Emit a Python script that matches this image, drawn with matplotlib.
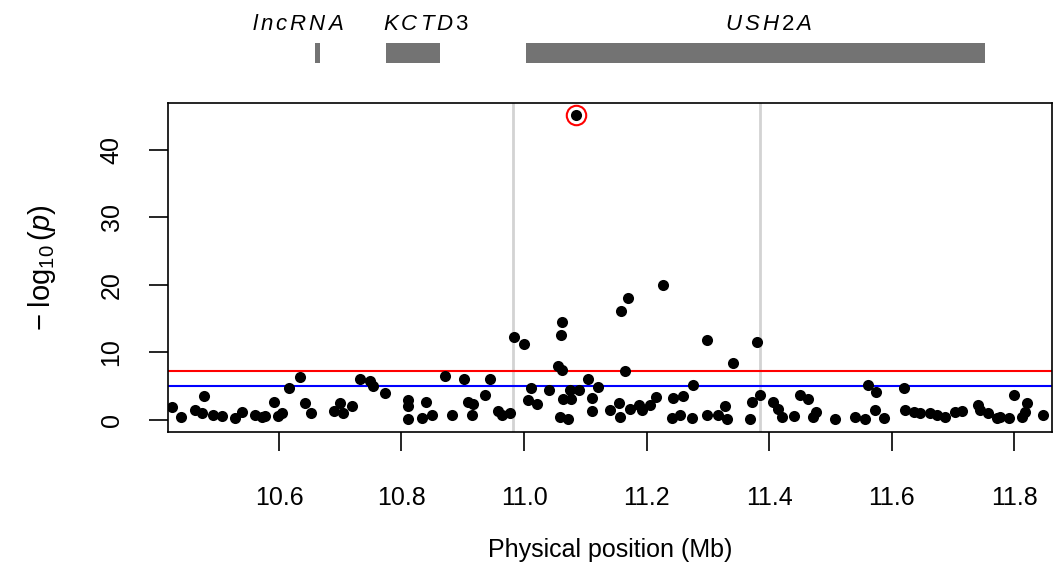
import matplotlib
matplotlib.use("Agg")
import matplotlib.pyplot as plt

plt.rcParams['font.family'] = ['Liberation Sans', 'DejaVu Sans']
plt.rcParams['mathtext.fontset'] = 'custom'
plt.rcParams['mathtext.rm'] = 'Liberation Sans'
plt.rcParams['mathtext.it'] = 'Liberation Sans:italic'

# SNP positions (Mb) and -log10(p)
pos = [10.425, 10.440, 10.463, 10.475, 10.478, 10.493, 10.507, 10.528, 10.539,
       10.561, 10.572, 10.577, 10.592, 10.599, 10.605, 10.616, 10.634, 10.642,
       10.653, 10.689, 10.700, 10.705, 10.720, 10.732, 10.749, 10.754, 10.773,
       10.811, 10.811, 10.811, 10.833, 10.840, 10.849, 10.871, 10.883, 10.902,
       10.909, 10.915, 10.917, 10.936, 10.944, 10.958, 10.964, 10.977, 10.984,
       11.000, 11.006, 11.011, 11.022, 11.041, 11.056, 11.062, 11.062, 11.060,
       11.059, 11.072, 11.064, 11.077, 11.075, 11.089, 11.105, 11.111, 11.111,
       11.120, 11.140, 11.155, 11.157, 11.158, 11.165, 11.169, 11.173, 11.187,
       11.192, 11.206, 11.215, 11.227, 11.241, 11.244, 11.255, 11.260, 11.274,
       11.276, 11.298, 11.298, 11.317, 11.328, 11.332, 11.341, 11.369, 11.373,
       11.381, 11.386, 11.406, 11.414, 11.422, 11.441, 11.451, 11.464, 11.471,
       11.477, 11.508, 11.540, 11.557, 11.561, 11.573, 11.587, 11.622, 11.636,
       11.647, 11.663, 11.674, 11.687, 11.704, 11.715, 11.742, 11.745, 11.758,
       11.772, 11.777, 11.791, 11.813, 11.818, 11.821, 11.848,
       11.575, 11.620, 11.800]
logp = [1.9, 0.4, 1.5, 1.1, 3.5, 0.7, 0.6, 0.3, 1.2,
        0.7, 0.5, 0.6, 2.6, 0.6, 1.0, 4.7, 6.3, 2.5,
        1.0, 1.4, 2.5, 1.0, 2.1, 6.0, 5.8, 5.0, 4.0,
        3.0, 2.1, 0.1, 0.3, 2.6, 0.7, 6.5, 0.7, 6.1,
        2.7, 0.7, 2.3, 3.7, 6.0, 1.4, 0.8, 1.0, 12.3,
        11.3, 3.0, 4.8, 2.4, 4.5, 8.0, 7.4, 14.5, 12.6,
        0.4, 0.1, 3.1, 3.1, 4.5, 4.4, 6.0, 3.2, 1.4,
        4.9, 1.5, 2.5, 0.4, 16.2, 7.3, 18.1, 1.6, 2.2,
        1.5, 2.2, 3.4, 20.0, 0.3, 3.3, 0.7, 3.5, 0.3,
        5.2, 0.7, 11.9, 0.7, 2.1, 0.1, 8.5, 0.1, 2.6,
        11.5, 3.7, 2.7, 1.6, 0.5, 0.6, 3.7, 3.1, 0.5,
        1.2, 0.1, 0.4, 0.1, 5.2, 1.5, 0.3, 1.5, 1.2,
        1.0, 1.0, 0.7, 0.5, 1.2, 1.4, 2.2, 1.5, 1.0,
        0.3, 0.5, 0.3, 0.5, 1.2, 2.5, 0.7,
        4.2, 4.8, 3.7]

lead_pos = 11.085
lead_logp = 45.2

genome_wide = 7.3
suggestive = 5.0
region = [10.982, 11.385]

genes = [r'$\mathit{l}\,\mathit{n}\,\mathit{c}\,\mathit{R}\,\mathit{N}\,\mathit{A}$',
         r'$\mathit{K}\,\mathit{C}\,\mathit{T}\,\mathit{D}\,3$',
         r'$\mathit{U}\,\mathit{S}\,\mathit{H}\,2\,\mathit{A}$']
gene_start = [10.659, 10.775, 11.003]
gene_end = [10.667, 10.863, 11.753]
gene_label_x = [10.630, 10.840, 11.400]

fig = plt.figure(figsize=(10.61, 5.67), dpi=100)
ax = fig.add_axes([168 / 1061, 135 / 567, 884 / 1061, 329 / 567])

for r in region:
    ax.axvline(r, color='#d3d3d3', lw=2, zorder=1)
ax.axhline(genome_wide, color='red', lw=1.5, zorder=2)
ax.axhline(suggestive, color='blue', lw=1.5, zorder=2)
ax.scatter(pos, logp, s=64, color='black', lw=0, zorder=3)
ax.scatter([lead_pos], [lead_logp], s=64, color='black', lw=0, zorder=3)
ax.plot([lead_pos], [lead_logp], 'o', ms=14, mfc='none', mec='red', mew=1.5, zorder=4)

ax.set_xlim(10.4188, 11.862)
ax.set_ylim(-1.78, 46.96)
ax.set_xticks([10.6, 10.8, 11.0, 11.2, 11.4, 11.6, 11.8])
ax.set_xticklabels(['10.6', '10.8', '11.0', '11.2', '11.4', '11.6', '11.8'])
ax.set_yticks([0, 10, 20, 30, 40])
for s in ax.spines.values():
    s.set_linewidth(1.2)
ax.tick_params(length=14, width=1.2, labelsize=18)
ax.tick_params(axis='x', pad=25)
ax.tick_params(axis='y', pad=18)
for t in ax.get_yticklabels():
    t.set_rotation(90)
    t.set_va('center')
ax.set_xlabel('Physical position (Mb)', fontsize=18, labelpad=20)
ax.set_ylabel(r'$-\;\log_{10}(\mathit{p})$', fontsize=21, labelpad=30)

# gene track above the plot
gx = fig.add_axes([168 / 1061, 464 / 567, 884 / 1061, 103 / 567])
gx.set_xlim(ax.get_xlim())
gx.set_ylim(103, 0)
gx.axis('off')
for g, a, b, lx in zip(genes, gene_start, gene_end, gene_label_x):
    gx.fill_between([a, b], 43, 63, color='#737373', lw=0)
    gx.text(lx, 24, g, ha='center', va='center', fontsize=16)

fig.savefig('out.png', dpi=100)
